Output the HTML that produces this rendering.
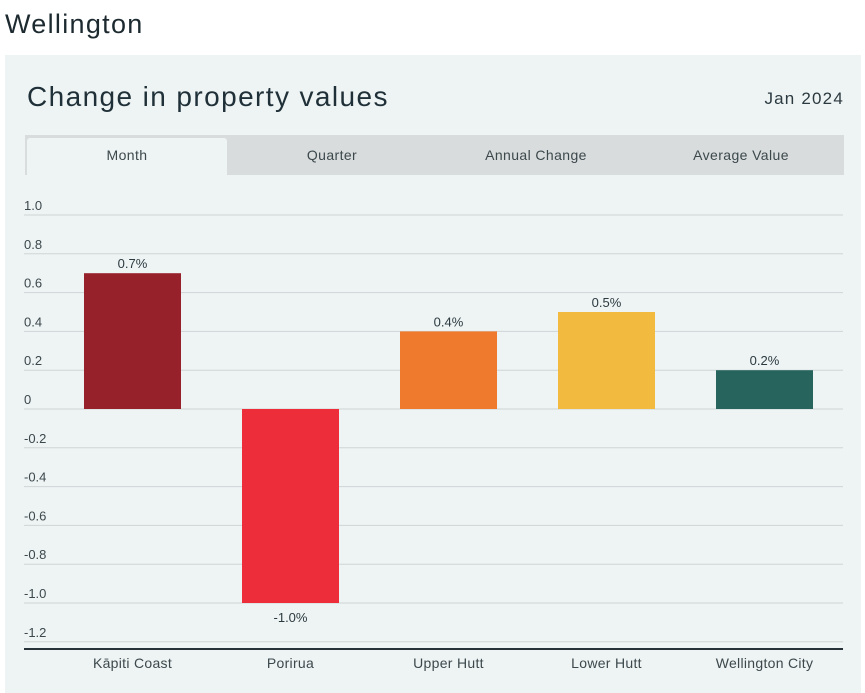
<!DOCTYPE html>
<html><head><meta charset="utf-8"><style>
body{margin:0;width:865px;height:693px;background:#fff;font-family:"Liberation Sans",sans-serif;position:relative;overflow:hidden}
.t{position:absolute;white-space:nowrap}
</style></head><body>
<div class="t" style="left:5px;top:9px;font-size:27px;letter-spacing:1.3px;color:#1c2a30">Wellington</div>
<div style="position:absolute;left:5px;top:55px;width:856px;height:638px;background:#eef3f3"></div>
<div class="t" style="left:27px;top:81px;font-size:28px;letter-spacing:1.4px;color:#1f3038">Change in property values</div>
<div class="t" style="right:21px;top:89px;font-size:17px;letter-spacing:1.2px;color:#2b3a40">Jan 2024</div>
<div style="position:absolute;left:25px;top:135px;width:819px;height:40px;background:#d8dcdc"></div>
<div class="t" style="left:27px;top:138px;width:200px;height:37px;background:#eef3f3;text-align:center;line-height:34px;font-size:14px;letter-spacing:0.4px;color:#3c484c;border-radius:3px 3px 0 0">Month</div>
<div class="t" style="left:232px;top:138px;width:200px;text-align:center;line-height:34px;font-size:14px;letter-spacing:0.4px;color:#3c484c">Quarter</div>
<div class="t" style="left:436px;top:138px;width:200px;text-align:center;line-height:34px;font-size:14px;letter-spacing:0.4px;color:#3c484c">Annual Change</div>
<div class="t" style="left:641px;top:138px;width:200px;text-align:center;line-height:34px;font-size:14px;letter-spacing:0.4px;color:#3c484c">Average Value</div>
<svg id="c" width="865" height="693" style="position:absolute;left:0;top:0"></svg>
<script>
const categories=["Kāpiti Coast","Porirua","Upper Hutt","Lower Hutt","Wellington City"];
const values=[0.7,-1.0,0.4,0.5,0.2];
const valueLabels=["0.7%","-1.0%","0.4%","0.5%","0.2%"];
const colors=["#96212b","#ee2d3a","#ef7a2e","#f2bb40","#27645d"];
const ticks=[1.0,0.8,0.6,0.4,0.2,0,-0.2,-0.4,-0.6,-0.8,-1.0,-1.2];
const tickLabels=["1.0","0.8","0.6","0.4","0.2","0","-0.2","-0.4","-0.6","-0.8","-1.0","-1.2"];
const svg=document.getElementById('c');const NS="http://www.w3.org/2000/svg";
const y=v=>409-v*194;
const x0=53.5,band=158,bw=97;
const xc=i=>x0+band*i+band/2;
function mk(t,a,txt){const e=document.createElementNS(NS,t);for(const k in a)e.setAttribute(k,a[k]);if(txt!==undefined)e.textContent=txt;svg.appendChild(e);return e;}
ticks.forEach((t,i)=>{
 const g=mk('line',{x1:24,x2:843,y1:y(t),y2:y(t),stroke:'#cfd5d6','stroke-width':1});
 
 
 const l=mk('text',{x:24,y:y(t)-5,'font-size':13,fill:'#3c484c','font-family':'Liberation Sans, sans-serif'},tickLabels[i]);
 
 
});
const ax=mk('line',{x1:24,x2:843,y1:649,y2:649,stroke:'#263238','stroke-width':2});


values.forEach((v,i)=>{
 const top=Math.min(y(v),y(0)),h=Math.abs(y(v)-y(0));
 const r=mk('rect',{x:xc(i)-bw/2,y:top,width:bw,height:h,fill:colors[i]});
 
 
 const ly=v>=0?y(v)-5:y(v)+19;
 const t=mk('text',{x:xc(i),y:ly,'text-anchor':'middle','font-size':13,fill:'#2b3a40','font-family':'Liberation Sans, sans-serif'},valueLabels[i]);
 
 
 const c=mk('text',{x:xc(i),y:668,'text-anchor':'middle','font-size':14,'letter-spacing':0.3,fill:'#3c484c','font-family':'Liberation Sans, sans-serif'},categories[i]);
 
 
});
</script>
</body></html>
